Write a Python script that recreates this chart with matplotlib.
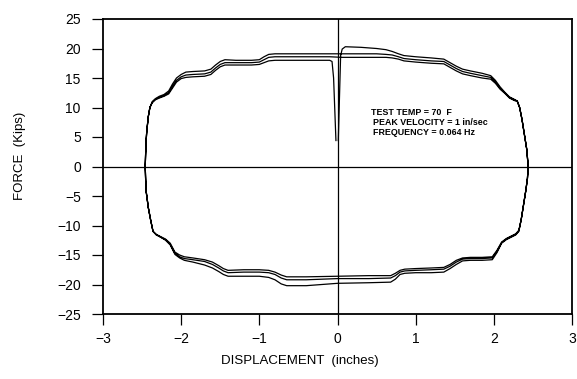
import matplotlib
matplotlib.use('Agg')
import matplotlib.pyplot as plt

# Hysteresis record: three cycles, each split into upper (rightward),
# lower (leftward) and upper-left return segments
xa = [0.06, 0.10, 0.30, 0.50, 0.62, 0.70, 0.78, 0.85, 1.00, 1.20, 1.36, 1.44, 1.52, 1.60,
      1.70, 1.85, 1.96, 2.02, 2.08, 2.14, 2.20, 2.26, 2.30, 2.33, 2.36, 2.39, 2.42, 2.44]
fa1 = [19.9, 20.3, 20.2, 20.0, 19.8, 19.5, 19.1, 18.8, 18.6, 18.4, 18.2, 17.6, 17.0, 16.5,
       16.2, 15.8, 15.4, 14.6, 13.5, 12.6, 11.8, 11.4, 11.1, 10.0, 8.0, 5.5, 3.0, 0.0]
fa2 = [19.1, 19.1, 19.1, 19.1, 19.0, 18.9, 18.6, 18.3, 18.1, 17.9, 17.8, 17.2, 16.6, 16.1,
       15.8, 15.4, 15.1, 14.3, 13.3, 12.5, 11.7, 11.3, 11.1, 10.0, 8.0, 5.5, 3.0, 0.0]
fa3 = [18.5, 18.5, 18.5, 18.5, 18.5, 18.4, 18.2, 17.9, 17.7, 17.5, 17.4, 16.8, 16.2, 15.7,
       15.4, 15.0, 14.8, 14.1, 13.1, 12.4, 11.6, 11.2, 11.0, 10.0, 8.0, 5.5, 3.0, 0.0]

xb = [2.44, 2.43, 2.41, 2.38, 2.35, 2.32, 2.28, 2.22, 2.16, 2.10, 2.04, 1.98, 1.85, 1.70,
      1.60, 1.52, 1.44, 1.36, 1.20, 1.00, 0.86, 0.80, 0.74, 0.68, 0.40, 0.00, -0.40, -0.65,
      -0.72, -0.80, -0.88, -1.00, -1.20, -1.40, -1.46, -1.52, -1.60, -1.70, -1.85, -1.96,
      -2.02, -2.08, -2.14, -2.20, -2.26, -2.32, -2.36, -2.39, -2.42, -2.45, -2.46]
fb1 = [0.0, -2.0, -4.0, -6.5, -9.0, -11.0, -11.6, -12.0, -12.4, -13.0, -14.6, -15.8, -15.9,
       -15.9, -16.0, -16.6, -17.3, -17.9, -18.0, -18.0, -18.1, -18.3, -19.1, -19.6, -19.7,
       -19.8, -20.2, -20.2, -19.9, -19.2, -18.8, -18.6, -18.6, -18.6, -18.3, -17.8, -17.2,
       -16.7, -16.2, -15.9, -15.5, -14.9, -13.3, -12.5, -12.0, -11.6, -11.0, -9.1, -7.0,
       -4.0, 0.0]
fb2 = [0.0, -2.0, -4.0, -6.5, -9.0, -10.9, -11.5, -11.9, -12.3, -12.9, -14.4, -15.5, -15.6,
       -15.6, -15.7, -16.2, -16.9, -17.4, -17.5, -17.6, -17.7, -17.9, -18.5, -18.9, -19.0,
       -19.0, -19.2, -19.2, -18.9, -18.3, -18.0, -17.9, -17.9, -18.0, -17.7, -17.2, -16.6,
       -16.1, -15.8, -15.6, -15.3, -14.7, -13.2, -12.4, -12.0, -11.5, -11.0, -9.1, -7.0,
       -4.0, 0.0]
fb3 = [0.0, -2.0, -4.0, -6.5, -9.0, -10.8, -11.4, -11.8, -12.2, -12.8, -14.2, -15.3, -15.4,
       -15.4, -15.5, -15.9, -16.6, -17.1, -17.2, -17.3, -17.4, -17.6, -18.1, -18.5, -18.5,
       -18.6, -18.7, -18.7, -18.4, -17.9, -17.6, -17.5, -17.5, -17.6, -17.3, -16.8, -16.2,
       -15.8, -15.5, -15.3, -15.0, -14.5, -13.0, -12.3, -11.9, -11.5, -11.0, -9.1, -7.0,
       -4.0, 0.0]

xc = [-2.46, -2.45, -2.44, -2.42, -2.40, -2.37, -2.33, -2.28, -2.22, -2.16, -2.11, -2.06,
      -2.00, -1.94, -1.85, -1.70, -1.62, -1.56, -1.50, -1.44, -1.30, -1.10, -1.00, -0.94,
      -0.88, -0.80, -0.60, -0.40, -0.20, -0.10]
fc1 = [0.0, 4.0, 6.0, 8.5, 10.0, 11.0, 11.5, 11.9, 12.2, 12.8, 14.0, 15.0, 15.6, 16.0, 16.1,
       16.2, 16.5, 17.2, 17.8, 18.1, 18.0, 18.0, 18.1, 18.6, 19.0, 19.1, 19.1, 19.1, 19.1, 19.1]
fc2 = [0.0, 4.0, 6.0, 8.5, 10.0, 10.9, 11.4, 11.7, 12.0, 12.5, 13.6, 14.6, 15.2, 15.5, 15.6,
       15.7, 16.0, 16.7, 17.3, 17.6, 17.6, 17.6, 17.7, 18.1, 18.5, 18.6, 18.6, 18.6, 18.6, 18.6]
fc3 = [0.0, 4.0, 6.0, 8.5, 10.0, 10.8, 11.3, 11.6, 11.9, 12.3, 13.3, 14.3, 14.9, 15.1, 15.2,
       15.3, 15.6, 16.3, 16.9, 17.2, 17.2, 17.2, 17.3, 17.6, 17.9, 18.0, 18.0, 18.0, 18.0, 18.0]

# test start and stop near zero displacement
start_x = [0.01, 0.04]
start_f = [4.4, 18.8]
end_x = [-0.07, -0.05, -0.02]
end_f = [17.8, 15.0, 4.4]

notes = ['TEST TEMP = 70  F', 'PEAK VELOCITY = 1 in/sec', 'FREQUENCY = 0.064 Hz']
xticks = [-3, -2, -1, 0, 1, 2, 3]
yticks = [-25, -20, -15, -10, -5, 0, 5, 10, 15, 20, 25]

plt.rcParams['font.family'] = ['Liberation Sans', 'DejaVu Sans']

fig = plt.figure(figsize=(5.77, 3.79), dpi=100)
ax = fig.add_axes([103 / 577, 1 - 314 / 379, 469 / 577, 295 / 379])

# join the cycles into one continuous trace
xs, fs = list(start_x), list(start_f)
for fa, fb, fc in [(fa1, fb1, fc1), (fa2, fb2, fc2), (fa3, fb3, fc3)]:
    xs += xa + xb + xc
    fs += fa + fb + fc
xs += end_x
fs += end_f

ax.plot(xs, fs, color='black', lw=0.9)
ax.axhline(0, color='black', lw=0.9)
ax.axvline(0, color='black', lw=0.9)

ax.set_xlim(-3, 3)
ax.set_ylim(-25, 25)
ax.set_xticks(xticks)
ax.set_yticks(yticks)
ax.tick_params(direction='out', length=8, width=0.9, labelsize=10, colors='black')
ax.tick_params(axis='y', pad=8)
ax.tick_params(axis='x', pad=5)
for s in ax.spines.values():
    s.set_linewidth(1.3)

fig.text(300 / 577, 1 - 361 / 379, 'DISPLACEMENT  (inches)', ha='center', va='center', fontsize=9.5)
fig.text(20 / 577, 1 - 156 / 379, 'FORCE  (Kips)', ha='center', va='center', rotation=90, fontsize=9.5)

# test conditions
for i, line in enumerate(notes):
    ax.text(0.43 if i == 0 else 0.46, 8.8 - i * 1.7, line, fontsize=6.4,
            fontweight='bold', ha='left', va='baseline')

fig.savefig('out.png', dpi=100)
